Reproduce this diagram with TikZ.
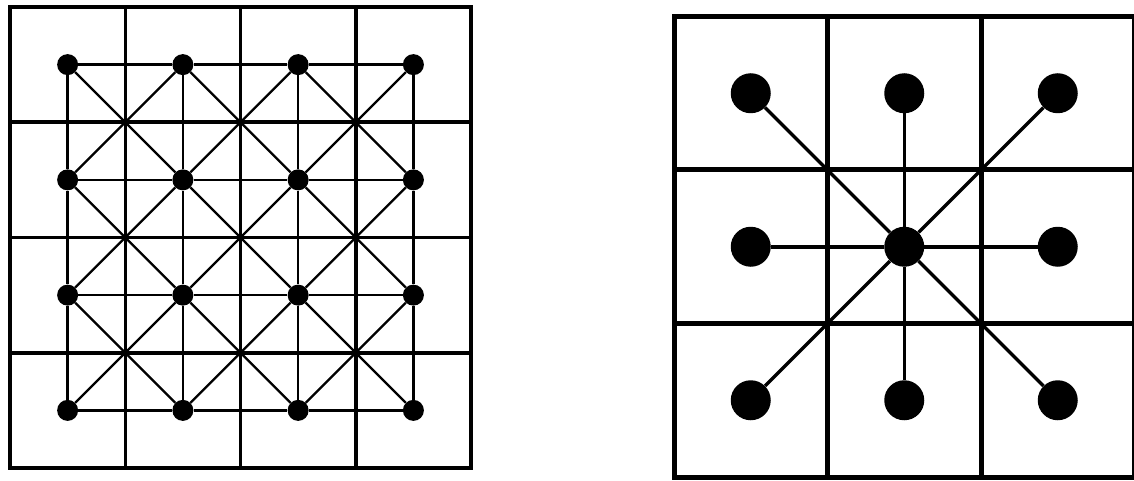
\documentclass[tikz,border=0pt]{standalone}
\usetikzlibrary{calc}
\tikzset{
  gridline/.style={line width=#1, black, line cap=rect},
  gridline/.default=3.5pt,
  dot/.style={circle, fill=black, inner sep=0pt, minimum size=#1},
  dot/.default=21pt,
  link/.style={line width=#1, black},
  link/.default=2.4pt,
}
\begin{document}
\begin{tikzpicture}[x=1pt,y=1pt]
  \useasboundingbox (0,0) rectangle (1134,480);
  %% Left grid: 4x4 cells, every neighbour linked
  \begin{scope}[shift={(10,12)}]
    \draw[gridline, step=115.25] (0,0) grid (461,461);
    \draw[gridline] (0,0) rectangle (461,461);
    \foreach \i in {1,...,4}
      \foreach \j in {1,...,4}
        \node[dot] (a\i\j) at ({(\i-0.5)*115.25},{(\j-0.5)*115.25}) {};
    \foreach \i/\k in {1/2,2/3,3/4}
      \foreach \j in {1,...,4} {
        \draw[link] (a\i\j) -- (a\k\j);
        \draw[link] (a\j\i) -- (a\j\k);
      }
    \foreach \i/\k in {1/2,2/3,3/4}
      \foreach \j/\l in {1/2,2/3,3/4} {
        \draw[link] (a\i\j) -- (a\k\l);
        \draw[link] (a\i\l) -- (a\k\j);
      }
  \end{scope}
  %% Right grid: 3x3 cells, star round the centre
  \begin{scope}[shift={(674,3)}]
    \draw[gridline=5pt, step=153.5] (0,0) grid (460.5,460.5);
    \draw[gridline=5pt] (0,0) rectangle (460.5,460.5);
    \foreach \i in {1,2,3}
      \foreach \j in {1,2,3}
        \node[dot=40pt] (b\i\j) at ({(\i-0.5)*153.5},{(\j-0.5)*153.5}) {};
    \foreach \n in {11,12,13,21,23,31,32,33}
      \draw[link=3.5pt] (b22) -- (b\n);
  \end{scope}
\end{tikzpicture}
\end{document}
